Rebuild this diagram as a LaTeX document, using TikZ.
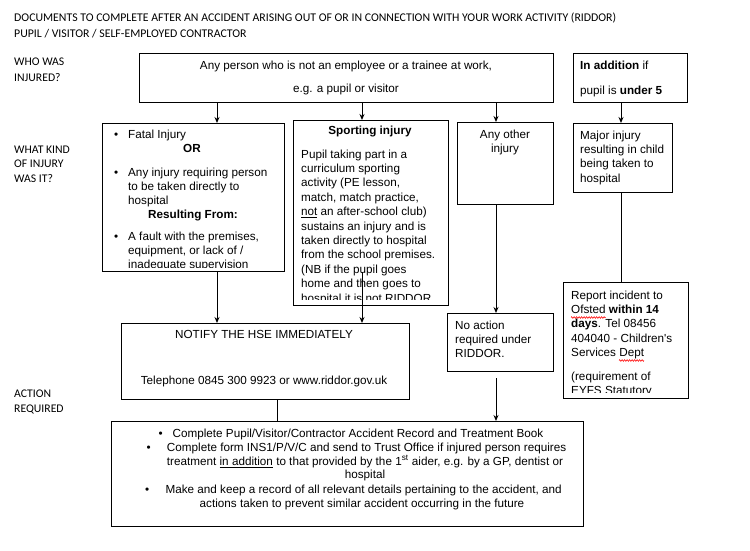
\documentclass[tikz,border=0pt]{standalone}
\usepackage{fontspec}
\setmainfont{Liberation Sans}
\newfontfamily\calfont{Carlito}
\usetikzlibrary{arrows.meta,decorations.pathmorphing}
\tikzset{>={Stealth[length=6pt,width=5pt]}}
\newcommand\boxfont{\fontsize{11.7}{14.4}\selectfont}
\newcommand\actfont{\fontsize{11.7}{13.6}\selectfont}
\newcommand\bul[1][10pt]{\llap{\textbullet\hspace{#1}}}
\tikzset{%
    box/.style={draw, line width=1pt, anchor=north west, inner sep=0pt},
    txt/.style={anchor=north west, inner sep=0pt, align=left, font=\boxfont,
        execute at begin node=\strut},
    ctxt/.style={txt, anchor=north, align=center},
    lbl/.style={anchor=north west, inner sep=0pt, align=left,
        font=\calfont\fontsize{11.7}{15}\selectfont, execute at begin node=\strut},
    link/.style={line width=1pt},
    spell/.style={red, line width=0.6pt, decorate,
        decoration={zigzag, amplitude=0.8pt, segment length=2.5pt}}
}
\begin{document}
\begin{tikzpicture}[x=1pt,y=-1pt]
\useasboundingbox (0,0) rectangle (750,551);

% headings on the left
\node[lbl, font=\calfont\fontsize{11.8}{16}\selectfont] (title) at (14,12.6)
    {DOCUMENTS TO COMPLETE AFTER AN ACCIDENT ARISING OUT OF OR IN CONNECTION WITH YOUR WORK ACTIVITY (RIDDOR)\\
     PUPIL / VISITOR / SELF-EMPLOYED CONTRACTOR};
\node[lbl, font=\calfont\fontsize{11.7}{16}\selectfont] (who) at (14,57.6) {WHO WAS\\INJURED?};
\node[lbl, font=\calfont\fontsize{11.7}{14.5}\selectfont] (kind) at (14,145.6) {WHAT KIND\\OF INJURY\\WAS IT?};
\node[lbl] (action) at (14,389.3) {ACTION\\REQUIRED};

% boxes
\node[box, minimum width=414pt, minimum height=49pt] (person) at (139,53) {};
\node[box, minimum width=114pt, minimum height=49pt] (addition) at (573,53) {};
\node[box, minimum width=182pt, minimum height=148pt] (fatal) at (102,123) {};
\node[box, minimum width=155pt, minimum height=185pt] (sport) at (293,120) {};
\node[box, minimum width=96pt, minimum height=82pt] (other) at (457,122) {};
\node[box, minimum width=99pt, minimum height=69pt] (major) at (573,123) {};
\node[box, minimum width=288pt, minimum height=76pt] (notify) at (121,323) {};
\node[box, minimum width=106pt, minimum height=58pt] (noact) at (447,313) {};
\node[box, minimum width=125pt, minimum height=116pt] (report) at (563,282) {};
\node[box, minimum width=472pt, minimum height=105pt] (todo) at (111,421) {};

% texts
\node[ctxt] (person1) at (346,59.4) {Any person who is not an employee or a trainee at work,};
\node[ctxt] (person2) at (346,82.4) {e.g. a pupil or visitor};
\node[txt] (add1) at (580,59.4) {\textbf{In addition} if};
\node[txt] (add2) at (580,84.4) {pupil is \textbf{under 5}};

\begin{scope}
\clip (fatal.north west) rectangle ([yshift=5pt]fatal.south east);
\node[txt] (fatal1) at (128,128.4) {\bul Fatal Injury};
\node[ctxt] (fatal2) at (192,142.4) {\textbf{OR}};
\node[txt] (fatal3) at (128,167.4) {\bul Any injury requiring person\\to be taken directly to\\hospital};
\node[ctxt] (fatal4) at (193,208.4) {\textbf{Resulting From:}};
\node[txt] (fatal5) at (128,231.4) {\bul A fault with the premises,\\equipment, or lack of /\\inadequate supervision};
\end{scope}

\begin{scope}
\clip (sport.north west) rectangle ([yshift=6.5pt]sport.south east);
\node[ctxt] (sport1) at (370,124.4) {\textbf{Sporting injury}};
\node[txt] (sport2) at (301,149.4) {Pupil taking part in a\\curriculum sporting\\activity (PE lesson,\\
    match, match practice,\\\underline{not} an after-school club)\\sustains an injury and is\\
    taken directly to hospital\\from the school premises.\\(NB if the pupil goes\\
    home and then goes to\\hospital it is not RIDDOR};
\end{scope}

\node[ctxt] (other1) at (505,129.4) {Any other\\injury};
\node[txt] (major1) at (580,130.4) {Major injury\\resulting in child\\being taken to\\hospital};

\node[ctxt] (notify1) at (264,328.4) {NOTIFY THE HSE IMMEDIATELY};
\node[ctxt] (notify2) at (264,374.4) {Telephone 0845 300 9923 or www.riddor.gov.uk};
\node[txt] (noact1) at (455,320.4) {No action\\required under\\RIDDOR.};

\begin{scope}
\clip (report.north west) rectangle ([yshift=7pt]report.south east);
\node[txt] (report1) at (571,290.4) {Report incident to\\Ofsted \textbf{within 14}\\
    \textbf{days}. Tel 08456\\404040 - Children\textquotesingle s\\Services Dept};
\node[txt] (report2) at (571,371.4) {(requirement of\\EYFS Statutory};
\end{scope}
\draw[spell] (571,317.5) -- (605.5,317.5);
\draw[spell] (619,360.5) -- (644,360.5);

\node[ctxt, font=\actfont] (todo1) at (358,428) {\bul Complete Pupil/Visitor/Contractor Accident Record and Treatment Book};
\node[ctxt, font=\actfont] (todo2) at (365,443) {\bul[13pt] Complete form INS1/P/V/C and send to Trust Office if injured person requires\\
    treatment \underline{in addition} to that provided by the 1\textsuperscript{st} aider, e.g. by a GP, dentist or\\hospital};
\node[ctxt, font=\actfont] (todo3) at (362,485) {\bul[13pt] Make and keep a record of all relevant details pertaining to the accident, and\\
    actions taken to prevent similar accident occurring in the future};

% connectors
\coordinate (c1) at (217,0);
\coordinate (c2) at (362,0);
\coordinate (c3) at (496,0);
\coordinate (c4) at (621,0);
\coordinate (c5) at (277,0);
\coordinate (sporttail) at (362,272);

\draw[link,->] (person.south -| c1) -- (fatal.north -| c1);
\draw[link,->] (person.south -| c2) -- (sport.north -| c2);
\draw[link,->] (person.south -| c3) -- (other.north -| c3);
\draw[link,->] (addition.south -| c4) -- (major.north -| c4);
\draw[link,->] (fatal.south -| c1) -- (notify.north -| c1);
\draw[link,->] (sporttail) -- (notify.north -| c2);
\draw[link,->] (other.south -| c3) -- (noact.north -| c3);
\draw[link] (major.south -| c4) -- (report.north -| c4);
\draw[link] (notify.south -| c5) -- (todo.north -| c5);
\draw[link,->] ([yshift=-6pt]noact.south -| c3) -- (todo.north -| c3);
\end{tikzpicture}
\end{document}
